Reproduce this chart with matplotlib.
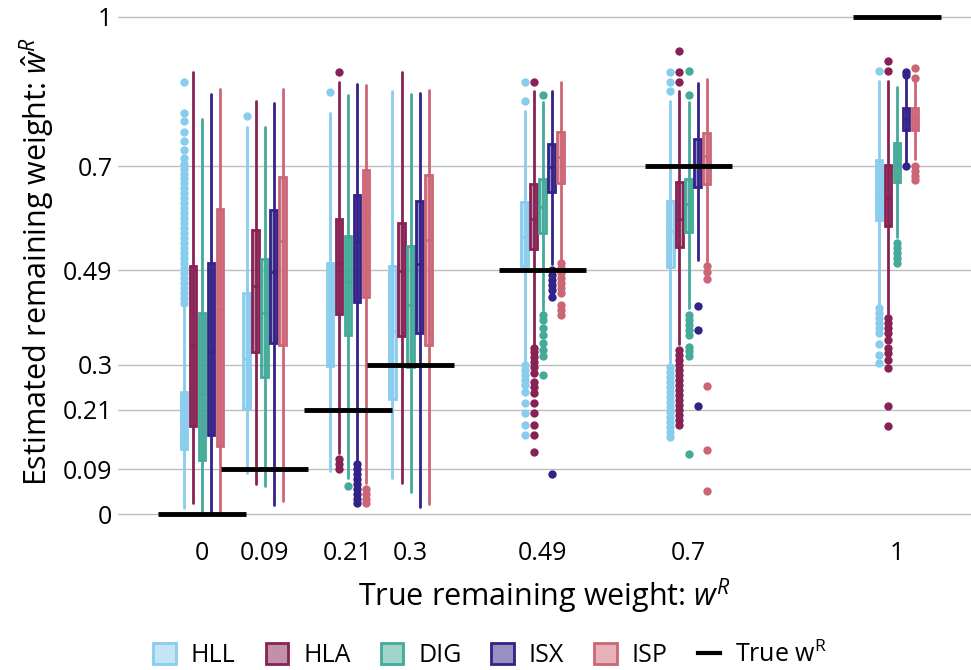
import matplotlib
matplotlib.use("Agg")
import matplotlib.pyplot as plt
import matplotlib.colors as mcolors
from matplotlib.patches import Patch
from matplotlib.lines import Line2D

plt.rcParams['font.family'] = ['Open Sans', 'DejaVu Sans']
plt.rcParams['mathtext.fontset'] = 'custom'
plt.rcParams['mathtext.rm'] = 'Open Sans'
plt.rcParams['mathtext.it'] = 'Open Sans:italic'

# true remaining weights (group positions on the x axis)
groups = [0, 0.09, 0.21, 0.3, 0.49, 0.7, 1]
methods = ["HLL", "HLA", "DIG", "ISX", "ISP"]
colors = {"HLL": "#88CCEE", "HLA": "#882255", "DIG": "#44AA99",
          "ISX": "#332288", "ISP": "#CC6677"}

# box stats, one value per group
hll_q1 = [0.131, 0.213, 0.298, 0.231, 0.498, 0.496, 0.592]
hll_med = [0.167, 0.311, 0.414, 0.369, 0.558, 0.570, 0.638]
hll_q3 = [0.246, 0.444, 0.506, 0.498, 0.628, 0.630, 0.712]
hll_lo = [0.013, 0.083, 0.087, 0.072, 0.303, 0.303, 0.417]
hll_hi = [0.417, 0.779, 0.807, 0.850, 0.810, 0.830, 0.872]
hll_out = [
    [0.425, 0.435, 0.445, 0.455, 0.465, 0.475, 0.485, 0.495, 0.505, 0.515, 0.525,
     0.535, 0.545, 0.555, 0.565, 0.575, 0.585, 0.595, 0.605, 0.615, 0.625, 0.635,
     0.645, 0.655, 0.665, 0.675, 0.685, 0.695, 0.705, 0.716, 0.732, 0.75, 0.769,
     0.79, 0.807, 0.87],
    [0.80],
    [0.848],
    [],
    [0.83, 0.87, 0.159, 0.179, 0.203, 0.223, 0.245, 0.26, 0.27, 0.28, 0.29, 0.30],
    [0.85, 0.87, 0.89, 0.156, 0.165, 0.175, 0.185, 0.195, 0.205, 0.215, 0.225,
     0.235, 0.245, 0.255, 0.265, 0.275, 0.285, 0.295],
    [0.891, 0.304, 0.32, 0.343, 0.364, 0.375, 0.385, 0.395, 0.405, 0.415],
]

hla_q1 = [0.178, 0.325, 0.402, 0.358, 0.533, 0.537, 0.579]
hla_med = [0.340, 0.459, 0.506, 0.488, 0.593, 0.594, 0.635]
hla_q3 = [0.499, 0.571, 0.594, 0.585, 0.664, 0.667, 0.702]
hla_lo = [0.023, 0.060, 0.123, 0.063, 0.340, 0.343, 0.400]
hla_hi = [0.890, 0.830, 0.870, 0.889, 0.850, 0.850, 0.872]
hla_out = [
    [],
    [],
    [0.89, 0.09, 0.10, 0.11],
    [],
    [0.87, 0.125, 0.159, 0.179, 0.203, 0.223, 0.243, 0.255, 0.266, 0.284, 0.295,
     0.305, 0.315, 0.325, 0.335],
    [0.932, 0.89, 0.87, 0.179, 0.19, 0.20, 0.21, 0.22, 0.23, 0.24, 0.25, 0.26,
     0.27, 0.28, 0.29, 0.30, 0.31, 0.32, 0.33],
    [0.912, 0.891, 0.178, 0.218, 0.294, 0.31, 0.324, 0.335, 0.35, 0.364, 0.375,
     0.385, 0.395],
]

dig_q1 = [0.109, 0.276, 0.360, 0.295, 0.566, 0.568, 0.667]
dig_med = [0.241, 0.404, 0.466, 0.420, 0.618, 0.624, 0.706]
dig_q3 = [0.404, 0.514, 0.559, 0.540, 0.674, 0.674, 0.747]
dig_lo = [0.000, 0.056, 0.072, 0.045, 0.410, 0.414, 0.558]
dig_hi = [0.794, 0.778, 0.843, 0.844, 0.828, 0.828, 0.860]
dig_out = [
    [],
    [],
    [0.056],
    [],
    [0.843, 0.28, 0.317, 0.33, 0.345, 0.36, 0.375, 0.39, 0.40],
    [0.892, 0.843, 0.12, 0.317, 0.327, 0.337, 0.36, 0.37, 0.38, 0.39, 0.40],
    [0.504, 0.515, 0.525, 0.535, 0.545],
]

isx_q1 = [0.159, 0.345, 0.426, 0.364, 0.647, 0.657, 0.773]
isx_med = [0.325, 0.486, 0.548, 0.503, 0.699, 0.699, 0.795]
isx_q3 = [0.506, 0.612, 0.642, 0.630, 0.744, 0.754, 0.816]
isx_lo = [0.000, 0.018, 0.109, 0.015, 0.503, 0.512, 0.699]
isx_hi = [0.845, 0.826, 0.865, 0.846, 0.850, 0.867, 0.879]
isx_out = [
    [],
    [],
    [0.022, 0.03, 0.04, 0.05, 0.06, 0.07, 0.08, 0.09, 0.10],
    [],
    [0.08, 0.436, 0.451, 0.46, 0.47, 0.48, 0.49],
    [0.217, 0.37, 0.419],
    [0.883, 0.889, 0.70],
]

isp_q1 = [0.137, 0.340, 0.436, 0.341, 0.665, 0.663, 0.773]
isp_med = [0.412, 0.549, 0.596, 0.551, 0.719, 0.720, 0.796]
isp_q3 = [0.614, 0.677, 0.692, 0.681, 0.769, 0.767, 0.816]
isp_lo = [0.005, 0.026, 0.062, 0.020, 0.514, 0.499, 0.714]
isp_hi = [0.855, 0.855, 0.863, 0.853, 0.870, 0.875, 0.877]
isp_out = [
    [],
    [],
    [0.022, 0.03, 0.04, 0.05],
    [],
    [0.40, 0.41, 0.42, 0.444, 0.455, 0.465, 0.475, 0.485, 0.495, 0.505],
    [0.046, 0.129, 0.258, 0.473, 0.486, 0.499],
    [0.898, 0.877, 0.672, 0.68, 0.69, 0.70],
]

stats = {
    "HLL": (hll_q1, hll_med, hll_q3, hll_lo, hll_hi, hll_out),
    "HLA": (hla_q1, hla_med, hla_q3, hla_lo, hla_hi, hla_out),
    "DIG": (dig_q1, dig_med, dig_q3, dig_lo, dig_hi, dig_out),
    "ISX": (isx_q1, isx_med, isx_q3, isx_lo, isx_hi, isx_out),
    "ISP": (isp_q1, isp_med, isp_q3, isp_lo, isp_hi, isp_out),
}

step = 0.013   # offset between boxes inside a group
box_w = 0.0095
half_line = 0.063

fig = plt.figure(figsize=(9.71, 6.7), dpi=100)
ax = fig.add_axes([0.1215, 0.2179, 0.8785, 0.7821])

for i, m in enumerate(methods):
    q1, med, q3, lo, hi, out = stats[m]
    c = colors[m]
    pos = [g + (i - 2) * step for g in groups]
    bxp_stats = []
    for k in range(len(groups)):
        bxp_stats.append({"q1": q1[k], "med": med[k], "q3": q3[k],
                          "whislo": lo[k], "whishi": hi[k], "fliers": out[k]})
    # whisker line seen through the translucent box
    ax.vlines(pos, q1, q3, color=c, lw=2, zorder=2)
    ax.bxp(bxp_stats, positions=pos, widths=box_w, patch_artist=True,
           showcaps=False, manage_ticks=False, zorder=3,
           boxprops=dict(facecolor=mcolors.to_rgba(c, 0.5), edgecolor=c, lw=2),
           whiskerprops=dict(color=c, lw=2, solid_capstyle="round"),
           medianprops=dict(color=c, lw=1.8),
           flierprops=dict(marker="o", markerfacecolor=c, markeredgewidth=0,
                           markersize=6))

# true value lines
ax.hlines(groups, [g - half_line for g in groups], [g + half_line for g in groups],
          color="black", lw=3.5, zorder=4)

ax.set_xlim(-0.121, 1.1065)
ax.set_ylim(-0.02, 1.034)
ax.set_xticks(groups)
ax.set_xticklabels(["0", "0.09", "0.21", "0.3", "0.49", "0.7", "1"])
ax.set_yticks(groups)
ax.set_yticklabels(["0", "0.09", "0.21", "0.3", "0.49", "0.7", "1"])
ax.tick_params(axis="x", length=0, pad=12, labelsize=18)
ax.tick_params(axis="y", length=0, pad=4, labelsize=18)
ax.grid(axis="y", color="#bdbdbd", lw=1)
ax.set_axisbelow(True)
for s in ax.spines.values():
    s.set_visible(False)

ax.set_xlabel(r"True remaining weight: $w^R$", fontsize=22, labelpad=8)
ax.set_ylabel(r"Estimated remaining weight: $\hat{w}^R$", fontsize=22, labelpad=4)

handles = [Patch(facecolor=mcolors.to_rgba(colors[m], 0.5), edgecolor=colors[m], lw=2)
           for m in methods]
handles.append(Line2D([0], [0], color="black", lw=3))
labels = methods + [r"True w$^{\mathrm{R}}$"]
fig.legend(handles, labels, loc="center", bbox_to_anchor=(0.505, 0.022), ncol=6,
           frameon=False, fontsize=18, handlelength=0.9, handleheight=0.9,
           handletextpad=0.6, columnspacing=1.2)

fig.savefig("out.png", dpi=100)
